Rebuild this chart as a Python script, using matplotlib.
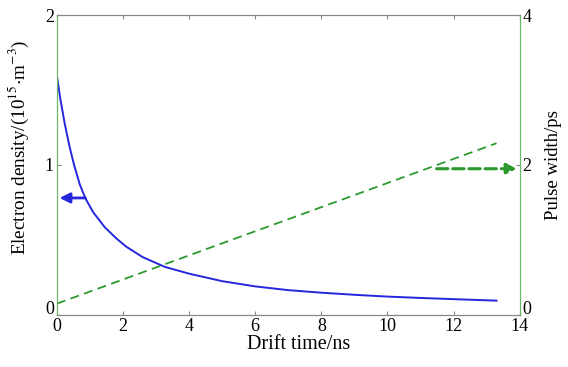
import matplotlib
matplotlib.use("Agg")
import matplotlib.pyplot as plt
from matplotlib.transforms import ScaledTranslation

plt.rcParams['font.family'] = ['Liberation Serif', 'DejaVu Serif']
plt.rcParams['mathtext.fontset'] = 'stix'

# electron density vs drift time
drift_time = [0, 0.1, 0.24, 0.38, 0.52, 0.7, 0.87, 1.1, 1.45, 1.8, 2.1, 2.6,
              3.27, 4, 5, 6, 7, 8, 9, 10, 11, 12, 13.3]
density = [1.60, 1.45, 1.275, 1.128, 1.002, 0.867, 0.775, 0.685, 0.585, 0.51, 0.455, 0.385,
           0.32, 0.275, 0.225, 0.19, 0.165, 0.148, 0.134, 0.122, 0.113, 0.105, 0.095]

# pulse width (dashed, right axis)
pw_time = [0, 13.3]
pulse_width = [0.15, 2.29]

blue = '#2626dc'
green = '#2e9a2e'

fig = plt.figure(figsize=(5.68, 3.67), dpi=100)
ax = fig.add_axes([0.1, 0.142, 0.815, 0.817])
ax2 = ax.twinx()

ax.plot(drift_time, density, color=blue, lw=1.4, solid_joinstyle='round')
ax2.plot(pw_time, pulse_width, color=green, lw=1.3, ls=(0, (5, 3)))

ax.set_xlim(0, 14)
ax.set_ylim(0, 2)
ax2.set_ylim(0, 4)
ax.set_xticks([0, 2, 4, 6, 8, 10, 12, 14])
ax.set_yticks([0, 1, 2])
ax2.set_yticks([0, 2, 4])

# arrows pointing to the matching axis
ax.annotate('', xy=(0, 0.78), xytext=(0.95, 0.78),
            arrowprops=dict(arrowstyle='-|>', color=blue, lw=2, mutation_scale=15))
ax2.annotate('', xy=(14, 1.95), xytext=(11.4, 1.95),
             arrowprops=dict(arrowstyle='-|>', color=green, lw=2.2, ls='--', mutation_scale=15))

for a in (ax, ax2):
    a.spines['top'].set_color('#888888')
    a.spines['bottom'].set_color('#888888')
    a.spines['left'].set_color('#6cb86c')
    a.spines['right'].set_color('#6cb86c')
ax.tick_params(direction='in', labelsize=13, length=3, color='#888888', top=True, pad=2)
ax2.tick_params(direction='in', labelsize=13, length=3, color='#888888', pad=2)

# the "0" labels on both y axes sit a bit higher, clear of the x labels
lift = ScaledTranslation(0, 5 / 72, fig.dpi_scale_trans)
for a in (ax, ax2):
    lab = a.get_yticklabels()[0]
    lab.set_transform(lab.get_transform() + lift)

ax.set_xlabel('Drift time/ns', fontsize=14.5, labelpad=0)
ax.xaxis.label.set_x(0.523)
ax.set_ylabel(r'Electron density/(10$^{15}$$\cdot$m$^{-3}$)', fontsize=13.8)
ax.yaxis.set_label_coords(-0.055, 0.557)
ax2.set_ylabel('Pulse width/ps', fontsize=13.5, labelpad=10)

fig.savefig('out.png', dpi=100)
